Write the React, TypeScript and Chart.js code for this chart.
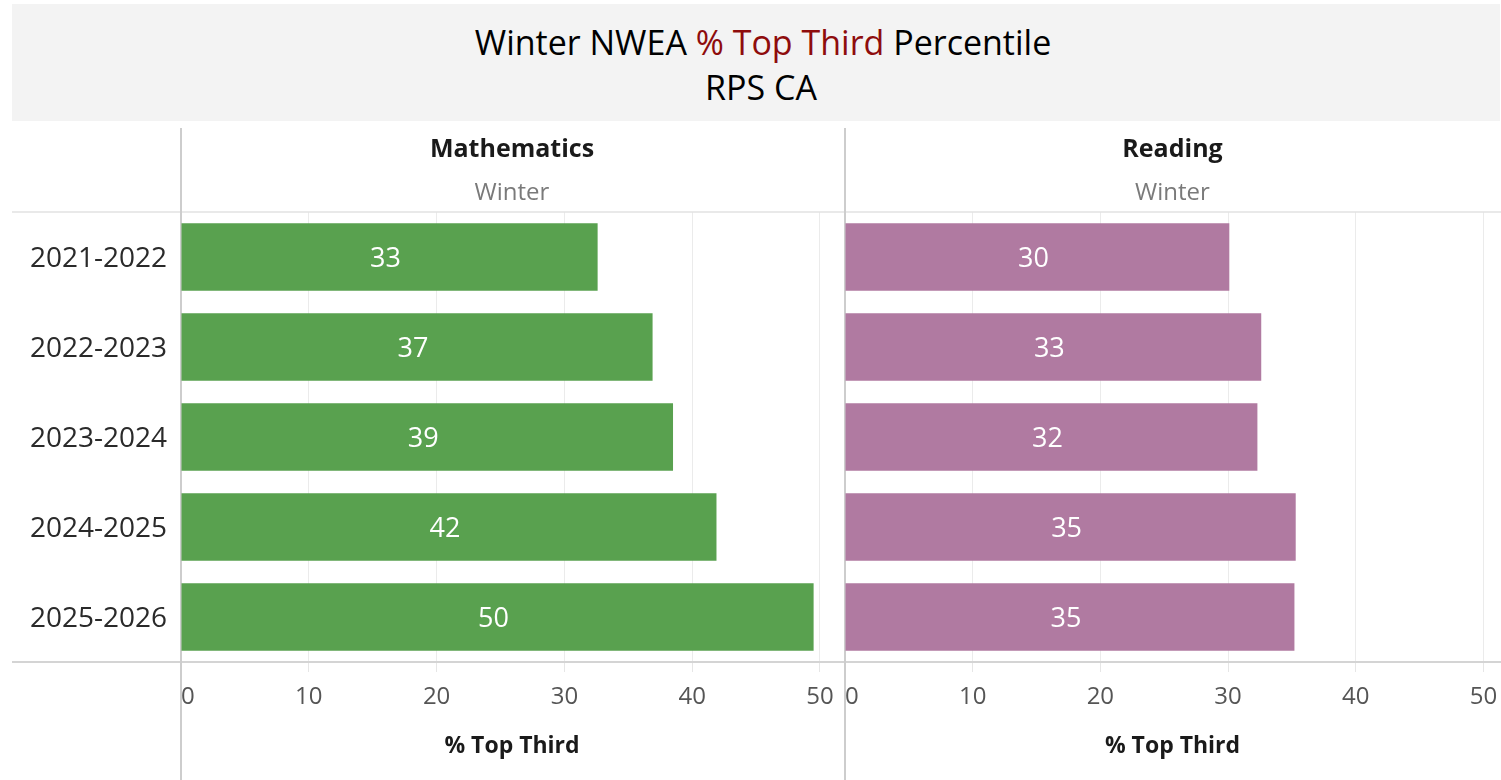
import React, { useEffect, useRef } from "react";
import { Chart, registerables } from "chart.js";

Chart.register(...registerables);

const years = ["2021-2022", "2022-2023", "2023-2024", "2024-2025", "2025-2026"];
const mathValues = [32.6, 36.9, 38.5, 41.9, 49.5];
const readingValues = [30.1, 32.6, 32.3, 35.3, 35.2];
const tickValues = [0, 10, 20, 30, 40, 50];
const panelTitles = ["Mathematics", "Reading"];
const panelSubtitle = "Winter";
const axisTitle = "% Top Third";
const titleParts = ["Winter NWEA ", "% Top Third", " Percentile"];
const subTitle = "RPS CA";

const FONT = "'Open Sans', 'Noto Sans', sans-serif";

type PanelProps = {
  values: number[];
  color: string;
  title: string;
  showYLabels: boolean;
  max: number;
  left: number;
  width: number;
};

const TOP = 128;
const HEIGHT = 652;
const HEADER_H = 84; // 212 - 128
const PLOT_BOTTOM = 534; // 662 - 128

function Panel({ values, color, title, showYLabels, max, left, width }: PanelProps) {
  const ref = useRef<HTMLCanvasElement | null>(null);
  useEffect(() => {
    if (!ref.current) return;
    const yAxisW = showYLabels ? 169 : 1;
    const decor = {
      id: "decor",
      beforeDatasetsDraw(chart: any) {
        const { ctx, chartArea, width: w, height: h } = chart;
        ctx.save();
        const cx = (chartArea.left + chartArea.right) / 2;
        ctx.textAlign = "center";
        ctx.textBaseline = "middle";
        ctx.fillStyle = "#1a1a1a";
        ctx.font = `bold 25px ${FONT}`;
        ctx.fillText(title, cx, 150 - TOP);
        ctx.fillStyle = "#7a7a7a";
        ctx.font = `24px ${FONT}`;
        ctx.fillText(panelSubtitle, cx, 193 - TOP);
        ctx.strokeStyle = "#e2e2e2";
        ctx.lineWidth = 1.5;
        ctx.beginPath();
        ctx.moveTo(0, chartArea.top);
        ctx.lineTo(w, chartArea.top);
        ctx.stroke();
        ctx.strokeStyle = "#d4d4d4";
        ctx.lineWidth = 2;
        ctx.beginPath();
        ctx.moveTo(0, chartArea.bottom);
        ctx.lineTo(w, chartArea.bottom);
        ctx.stroke();
        ctx.strokeStyle = "#cdcdcd";
        ctx.lineWidth = 2;
        ctx.beginPath();
        ctx.moveTo(chartArea.left, 0);
        ctx.lineTo(chartArea.left, h);
        ctx.stroke();
        ctx.restore();
      },
      afterDatasetsDraw(chart: any) {
        const { ctx } = chart;
        const meta = chart.getDatasetMeta(0);
        ctx.save();
        ctx.fillStyle = "#ffffff";
        ctx.font = `27px ${FONT}`;
        ctx.textAlign = "center";
        ctx.textBaseline = "middle";
        meta.data.forEach((bar: any, i: number) => {
          const x = (bar.base + bar.x) / 2;
          ctx.fillText(String(Math.round(values[i])), x - 4, bar.y + 2);
        });
        ctx.restore();
      },
    };

    const chart = new Chart(ref.current, {
      type: "bar",
      data: {
        labels: years,
        datasets: [
          {
            data: values,
            backgroundColor: color,
            barPercentage: 0.75,
            categoryPercentage: 1,
          },
        ],
      },
      options: {
        animation: false,
        responsive: false,
        indexAxis: "y",
        layout: { padding: { top: HEADER_H, right: 1, left: 0, bottom: 0 } },
        plugins: { legend: { display: false }, tooltip: { enabled: false } },
        scales: {
          y: {
            display: true,
            grid: { display: false },
            border: { display: false },
            ticks: {
              display: showYLabels,
              padding: 6,
              labelOffset: 2,
              color: "#2a2a2a",
              font: { family: FONT, size: 28 },
            },
            afterFit(scale: any) {
              scale.width = yAxisW;
              scale.paddingTop = 0;
              scale.paddingBottom = 0;
            },
          },
          x: {
            min: 0,
            max: max,
            afterBuildTicks(scale: any) {
              scale.ticks = tickValues.map((v) => ({ value: v }));
              scale.ticks.push({ value: max });
            },
            grid: {
              color: (c: any) => (c.tick && c.tick.value > 50 ? "rgba(0,0,0,0)" : "#ebebeb"),
              lineWidth: 1,
              drawTicks: true,
              tickLength: 10,
              tickColor: (c: any) => (c.tick && c.tick.value > 50 ? "rgba(0,0,0,0)" : "#e6e6e6"),
            },
            border: { display: false },
            ticks: {
              align: "inner",
              maxRotation: 0,
              autoSkip: false,
              padding: 11,
              color: "#555555",
              font: { family: FONT, size: 24 },
              callback: (v: any) => (tickValues.includes(Number(v)) ? String(v) : ""),
            },
            title: {
              display: true,
              text: axisTitle,
              color: "#1a1a1a",
              font: { family: FONT, size: 23, weight: "bold" },
              padding: { top: 0, bottom: 20 },
            },
            afterFit(scale: any) {
              scale.height = HEIGHT - PLOT_BOTTOM;
              scale.paddingLeft = 0;
              scale.paddingRight = 0;
            },
          },
        },
      },
      plugins: [decor],
    } as any);
    return () => chart.destroy();
  }, [values, color, title, showYLabels, max, left, width]);

  return (
    <canvas
      ref={ref}
      width={width}
      height={HEIGHT}
      style={{ position: "absolute", left, top: TOP, width, height: HEIGHT }}
    />
  );
}

export default function App() {
  return (
    <div
      style={{
        position: "absolute",
        left: 0,
        top: 0,
        width: 1501,
        height: 780,
        background: "#ffffff",
        overflow: "hidden",
        fontFamily: FONT,
      }}
    >
      <div
        style={{
          position: "absolute",
          left: 12,
          top: 4,
          width: 1488,
          height: 117,
          background: "#f3f3f3",
        }}
      />
      <div
        style={{
          position: "absolute",
          left: 24,
          width: 1478,
          top: 20,
          height: 44,
          lineHeight: "44px",
          textAlign: "center",
          fontSize: 34,
          color: "#000000",
          whiteSpace: "pre",
        }}
      >
        {titleParts[0]}
        <span style={{ color: "#8e0c0c" }}>{titleParts[1]}</span>
        {titleParts[2]}
      </div>
      <div
        style={{
          position: "absolute",
          left: 20,
          width: 1482,
          top: 65,
          height: 44,
          lineHeight: "44px",
          textAlign: "center",
          fontSize: 34,
          color: "#000000",
        }}
      >
        {subTitle}
      </div>
      <Panel values={mathValues} color="#59a14f" title={panelTitles[0]} showYLabels={true} max={51.8} left={12} width={832} />
      <Panel values={readingValues} color="#b07aa1" title={panelTitles[1]} showYLabels={false} max={51.3} left={844} width={657} />
    </div>
  );
}
